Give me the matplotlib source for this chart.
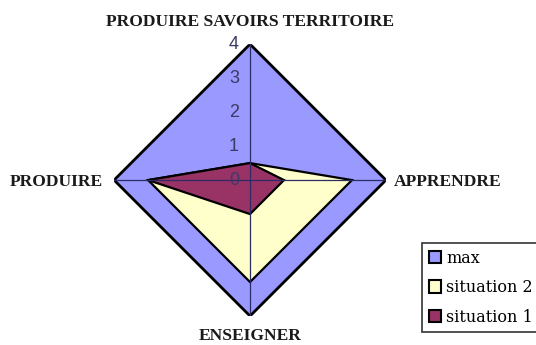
import numpy as np
import matplotlib
matplotlib.use("Agg")
import matplotlib.pyplot as plt
from matplotlib.patches import Patch

# data
categories = ["PRODUIRE SAVOIRS TERRITOIRE", "APPRENDRE", "ENSEIGNER", "PRODUIRE"]
max_vals = [4, 4, 4, 4]
situation2 = [0.5, 3, 3, 3]
situation1 = [0.5, 1, 1, 3]
r_ticks = [0, 1, 2, 3, 4]

series_names = ["max", "situation 2", "situation 1"]
series_vals = [max_vals, situation2, situation1]
series_colors = ["#9999FF", "#FFFFCC", "#993366"]

fig = plt.figure(figsize=(5.36, 3.45), dpi=100)
ax = fig.add_axes([0.2127, 0.084, 0.5075, 0.788], projection="polar")
ax.set_theta_zero_location("N")
ax.set_theta_direction(-1)

theta = np.linspace(0, 2 * np.pi, len(categories), endpoint=False)
t_closed = np.append(theta, theta[0])

for name, vals, col in zip(series_names, series_vals, series_colors):
    v = np.append(vals, vals[0])
    lw = 2.0 if name == "max" else 1.6
    ax.fill(t_closed, v, facecolor=col, edgecolor="black", linewidth=lw, zorder=1)

ax.set_ylim(0, 4)
ax.set_xticks(theta)
ax.set_xticklabels([])
ax.set_yticks(r_ticks)
ax.set_yticklabels([])
ax.yaxis.grid(False)
ax.xaxis.grid(True, color="#2b2b66", linewidth=0.9)
ax.set_axisbelow(False)
ax.spines["polar"].set_visible(False)
ax.patch.set_alpha(0)

# radial tick labels, left of the vertical spoke
for r in r_ticks:
    ax.annotate(str(r), xy=(0, r), xytext=(-16, 0), textcoords="offset pixels",
                ha="center", va="center", fontsize=13, color="#3a3a66",
                family="Liberation Sans")

# category labels
offsets = [(0, 22, "center"), (8, -2, "left"), (0, -20, "center"), (-11, -2, "right")]
for th, lab, (dx, dy, ha) in zip(theta, categories, offsets):
    ax.annotate(lab, xy=(th, 4), xytext=(dx, dy), textcoords="offset pixels",
                ha=ha, va="center", fontsize=12.6, fontweight="bold",
                family="Liberation Serif", color="#1a1a1a", annotation_clip=False)

handles = [Patch(facecolor=c, edgecolor="black", linewidth=1.5, label=n)
           for n, c in zip(series_names, series_colors)]
leg = fig.legend(handles=handles, loc="upper left", bbox_to_anchor=(0.787, 0.296),
                 prop={"family": "DejaVu Serif", "size": 11.5},
                 frameon=True, fancybox=False, edgecolor="black",
                 handlelength=0.8, handleheight=0.8, handletextpad=0.3,
                 labelspacing=0.78, borderpad=0.42, borderaxespad=0)
leg.get_frame().set_linewidth(1.2)

fig.savefig("out.png", dpi=100)
